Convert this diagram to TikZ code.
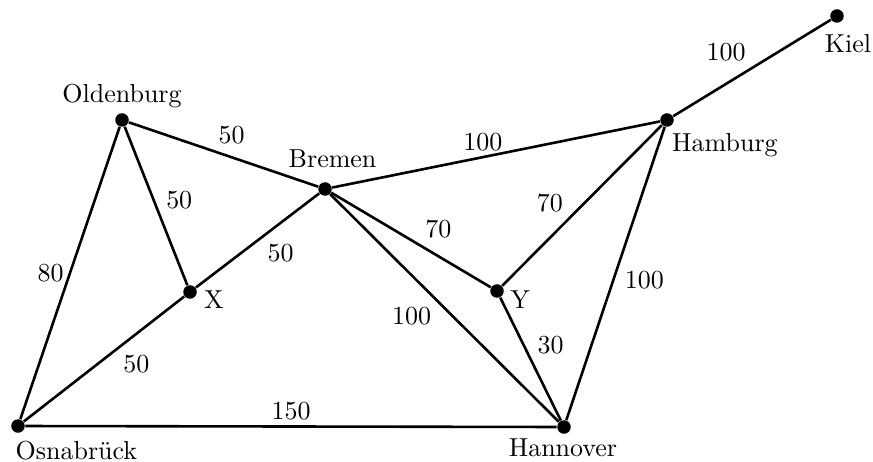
\documentclass[tikz,border=0pt]{standalone}
\usepackage{tikz}
\usetikzlibrary{positioning}

\begin{document}
\begin{tikzpicture}[x=0.385pt, y=-0.385pt]
		% Define styles
		\tikzset{
			city/.style={circle, fill, inner sep=0pt, minimum size=5.2pt},
			road/.style={draw, line width=1pt},
			cost/.style={inner sep=2pt}
		}
		\useasboundingbox (0,0) rectangle (873,462);
		
		% Nodes
		\node[city, label={[xshift=4.2pt, yshift=-10.8pt]center:Kiel}] (kiel) at (837,16) {};
		\node[city, label={[xshift=22.3pt, yshift=-9.6pt]center:Hamburg}] (ham) at (667,120) {};
		\node[city, label={[xshift=0pt, yshift=9.4pt]center:Oldenburg}] (old) at (122,120) {};
		\node[city, label={[xshift=2.9pt, yshift=11.5pt]center:Bremen}] (bre) at (325,189) {};
		\node[city, label={[xshift=9.2pt, yshift=-3.1pt]center:X}] (x) at (190,292) {};
		\node[city, label={[xshift=8.9pt, yshift=-3.5pt]center:Y}] (y) at (497,291) {};
		\node[city, label={[xshift=22.5pt, yshift=-9.4pt]center:Osnabrück}] (osn) at (18,426) {};
		\node[city, label={[xshift=-0.4pt, yshift=-8.1pt]center:Hannover}] (han) at (564,427) {};
		
		% Roads
		\draw[road] (kiel) -- node[cost, pos=0.5, above left] {100} (ham);
		\draw[road] (old) -- node[cost, pos=0.44, above right] {50} (bre);
		\draw[road] (bre) -- node[cost, pos=0.46, above] {100} (ham);
		\draw[road] (old) -- node[cost, pos=0.56, above right] {50} (x);
		\draw[road] (old) -- node[cost, pos=0.5, left] {80} (osn);
		\draw[road] (x) -- node[cost, pos=0.53, below right] {50} (bre);
		\draw[road] (osn) -- node[cost, pos=0.58, below right] {50} (x);
		\draw[road] (bre) -- node[cost, pos=0.55, above right] {70} (y);
		\draw[road] (y) -- node[cost, pos=0.42, above left] {70} (ham);
		\draw[road] (bre) -- node[cost, pos=0.47, below left] {100} (han);
		\draw[road] (y) -- node[cost, pos=0.51, above right] {30} (han);
		\draw[road] (ham) -- node[cost, pos=0.47, below right] {100} (han);
		\draw[road] (osn) -- node[cost, pos=0.5, above] {150} (han);
	\end{tikzpicture}
\end{document}
